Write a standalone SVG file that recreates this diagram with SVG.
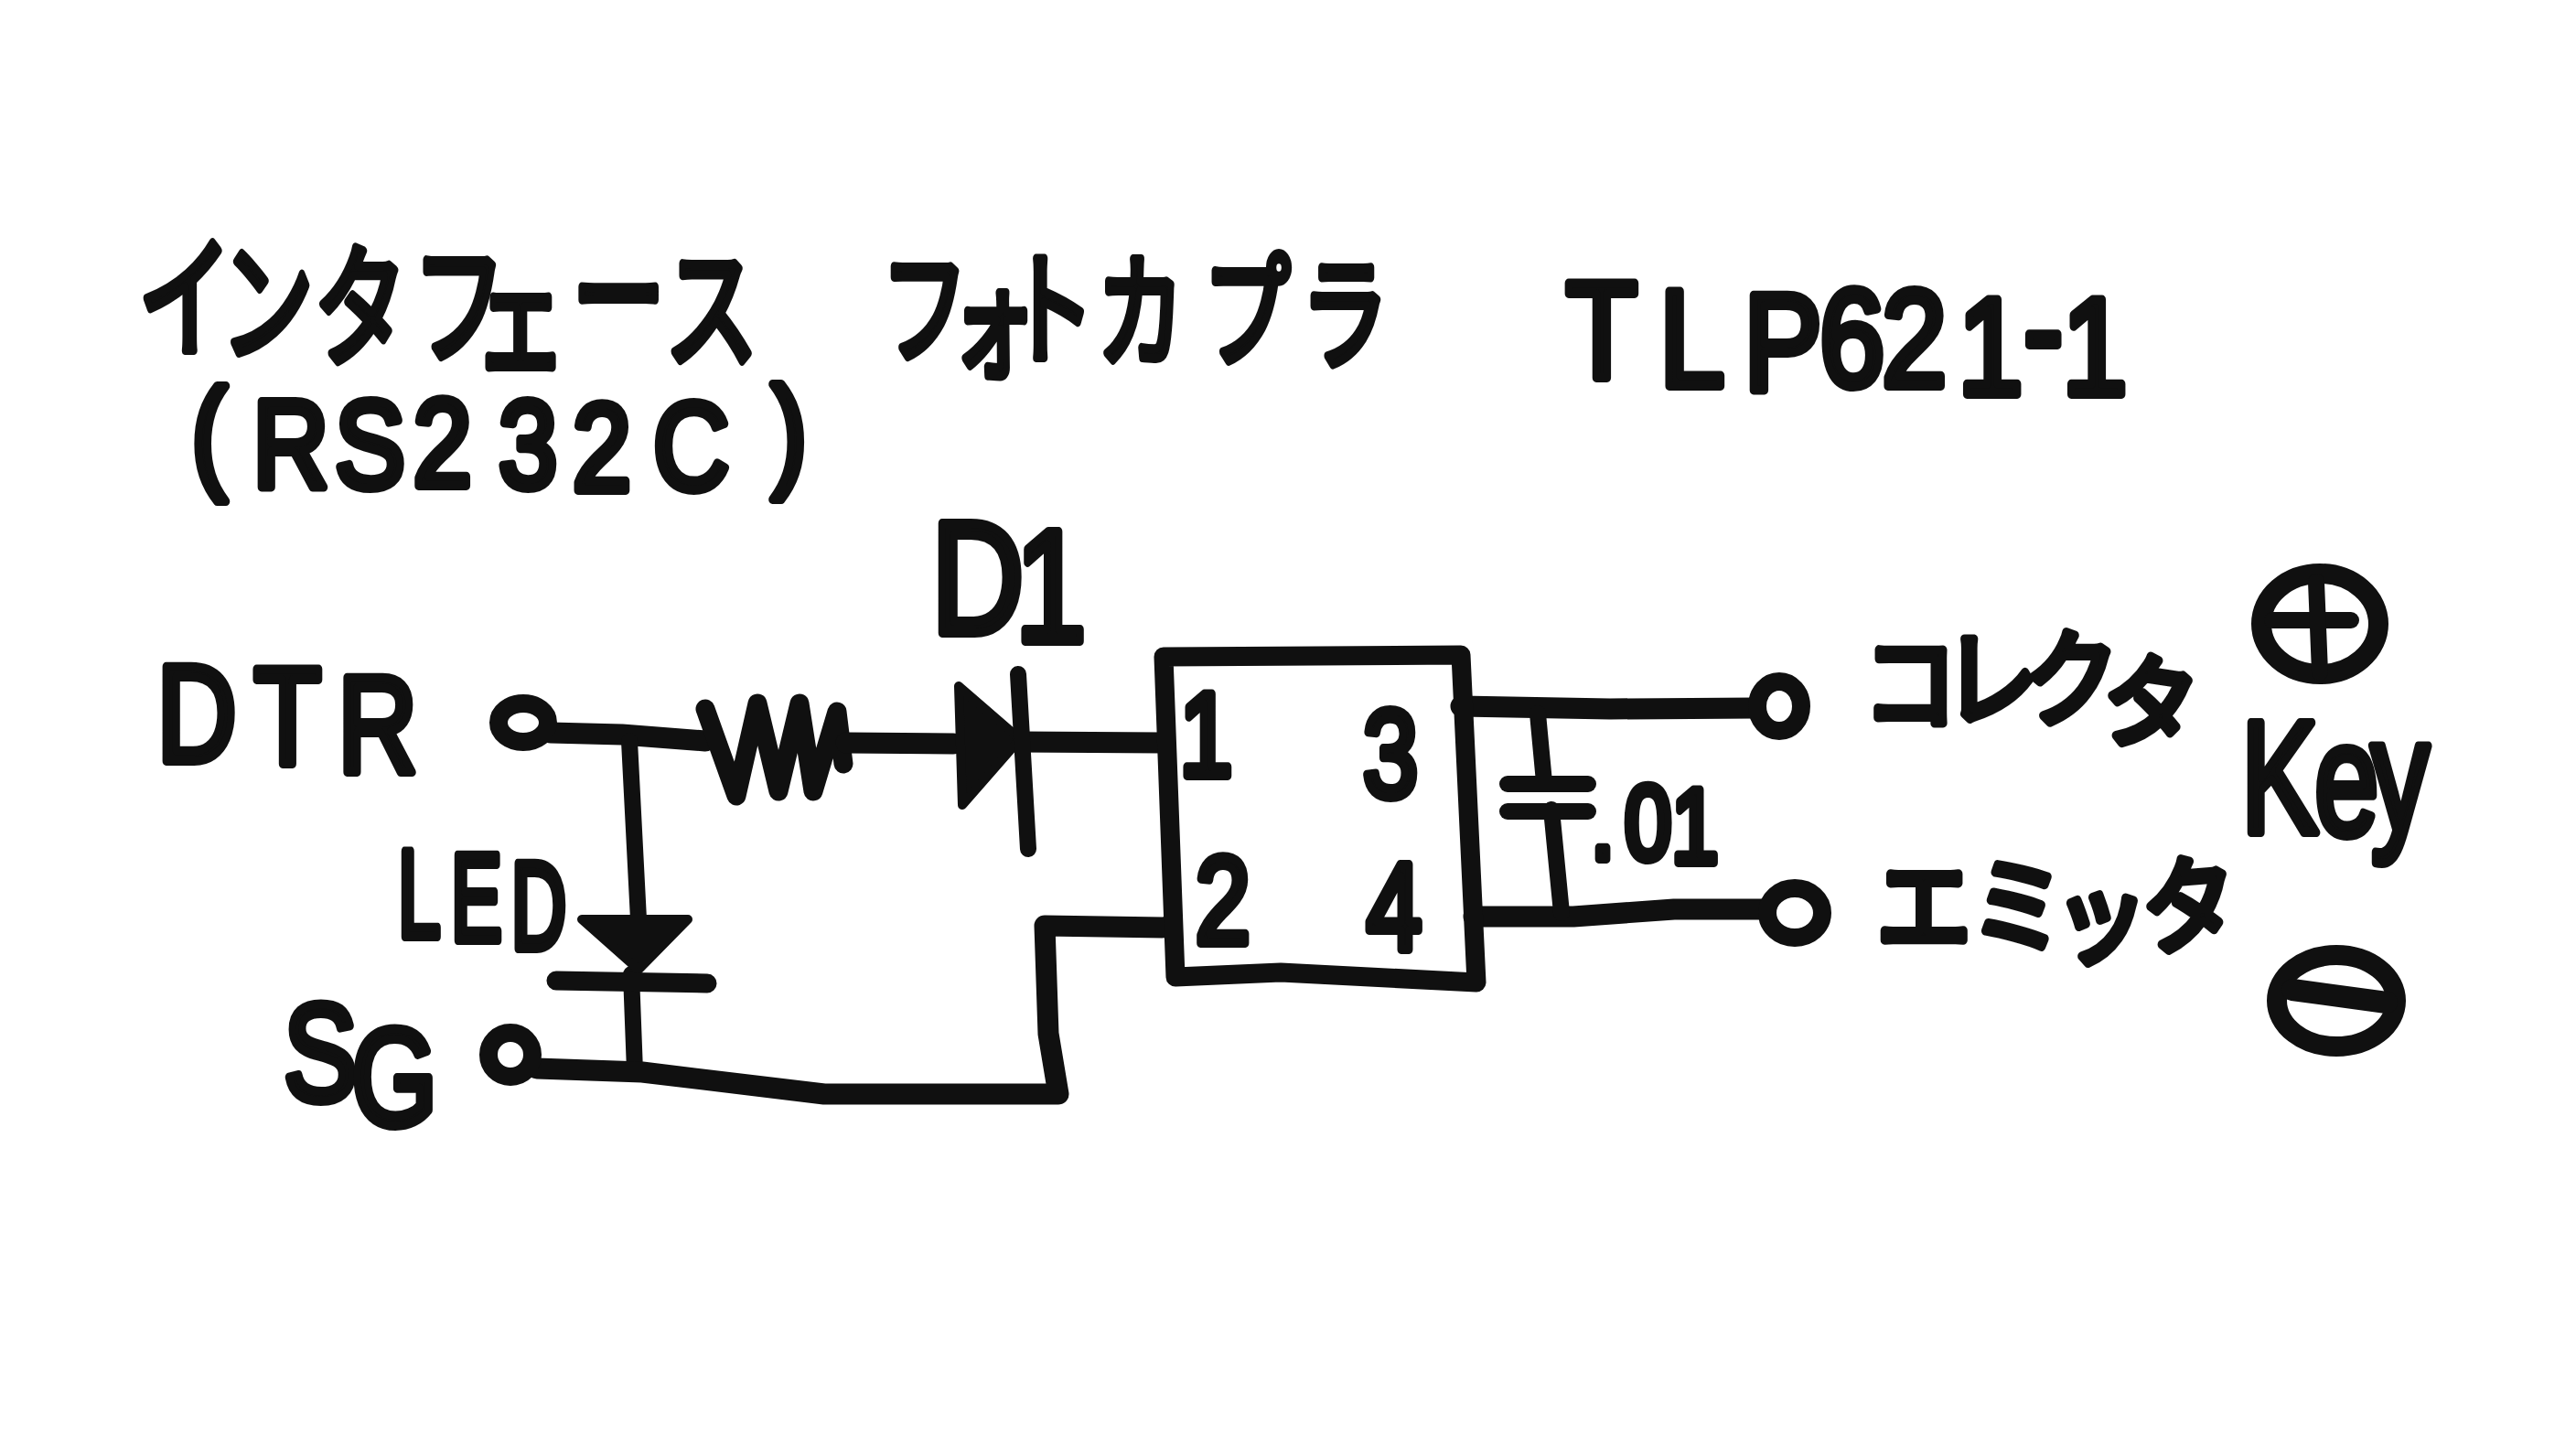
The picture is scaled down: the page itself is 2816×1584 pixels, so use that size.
<svg xmlns="http://www.w3.org/2000/svg" width="2816" height="1584" viewBox="0 0 2816 1584">
<style>
text{fill:#101010;stroke:#101010;stroke-linejoin:round;stroke-linecap:round;text-anchor:middle;font-weight:400;stroke-width:10}
.l{font-family:"Liberation Sans","Noto Sans",sans-serif}
.j{font-family:"Noto Sans CJK JP","Noto Sans",sans-serif}
.w{fill:none;stroke:#101010;stroke-linecap:round;stroke-linejoin:round}
.t{stroke-width:23}.m{stroke-width:18}.b{stroke-width:21}
.f{fill:#101010;stroke:#101010;stroke-width:10;stroke-linejoin:round}
</style>
<rect width="2816" height="1584" fill="#fff"/>
<g id="connectors">
<path class="w t" d="M602 801L680 803L771 810"/>
<path class="w b" d="M771 775L805 870L828 769L851 865L874 769L889 865L915 778L922 835"/>
<path class="w t" d="M925 812L1042 813"/>
<path class="w t" d="M1115 811L1272 812"/>
<path class="w m" d="M688 810L698 1005"/>
<path class="w m" d="M690 1065L694 1171"/>
<path class="w t" d="M1280 1014L1142 1012L1146 1130L1157 1196L901 1196L702 1172L587 1168"/>
<path class="w t" d="M1597 772L1760 775L1919 774"/>
<path class="w t" d="M1611 1002L1720 1002L1830 994L1927 994"/>
<path class="w m" d="M1681 780L1688 855"/>
<path class="w m" d="M1696 885L1707 998"/>
</g>
<g id="title-interface"><text class="j" font-size="145" transform="scale(.7,1)" x="289 417 563 717 813 966 1111" y="379 384 389 387 400 377 391">インタフェース</text>
<text class="l" font-size="135" transform="scale(.85,1)" x="269 374 476 569 679 774 889 1015" y="520 533 533 531 533 536 535 518">(RS232C)</text></g>
<g id="title-photocoupler"><text class="j" font-size="135" transform="scale(.7,1)" x="1444 1551 1641 1781 1947 2100" y="387 403 387 390 390 393">フォトカプラ</text></g>
<g id="title-part"><text class="l" font-size="150" transform="scale(.85,1)" x="2060 2176 2293 2382 2462 2560 2628 2694" y="413 422 426 422 422 431 411 431">TLP621-1</text></g>
<g id="terminal-dtr"><ellipse class="w" stroke-width="20" cx="572" cy="790" rx="27" ry="21"/><text class="l" font-size="150" transform="scale(.8,1)" x="269 393 516" y="832 835 844">DTR</text></g>
<g id="diode-d1"><path class="f" d="M1048 750L1052 880L1115 808Z"/><path class="w m" d="M1113 737L1124 928"/><text class="l" font-size="175" transform="scale(.8,1)" x="1336 1436" y="692 701">D1</text></g>
<g id="led"><path class="f" d="M636 1005L752 1005L698 1060Z"/><path class="w b" d="M608 1072L773 1075"/><text class="l" font-size="135" transform="scale(.62,1)" x="739 840 950" y="1024 1028 1037">LED</text></g>
<g id="terminal-sg"><ellipse class="w" stroke-width="20" cx="558" cy="1153" rx="24" ry="24"/><text class="l" font-size="150" transform="scale(.8,1)" x="438 539" y="1203 1230">SG</text></g>
<g id="optocoupler">
<path class="w b" d="M1272 718L1285 1068L1400 1063L1614 1074L1597 716Z"/>
<text class="l" font-size="130" transform="scale(.8,1)" x="1648" y="848">1</text>
<text class="l" font-size="135" transform="scale(.8,1)" x="1671" y="1031">2</text>
<text class="l" font-size="135" transform="scale(.8,1)" x="1900" y="871">3</text>
<text class="l" font-size="135" transform="scale(.8,1)" x="1905" y="1038">4</text>
</g>
<g id="capacitor"><path class="w m" d="M1648 857L1736 857"/><path class="w m" d="M1648 887L1736 887"/><text class="l" font-size="115" transform="scale(.8,1)" x="2190 2252 2316" y="939 939 943">.01</text></g>
<g id="terminal-collector"><ellipse class="w" stroke-width="20" cx="1945" cy="772" rx="24" ry="27"/><text class="j" font-size="115" transform="scale(.9,1)" x="2320 2418 2516 2606" y="789 784 784 803" rotate="0 0 0 8">コレクタ</text></g>
<g id="terminal-emitter"><ellipse class="w" stroke-width="20" cx="1962" cy="998" rx="30" ry="27"/><text class="j" font-size="115" transform="scale(.9,1)" x="2337 2451 2552 2662" y="1032 1032 1044 1036" rotate="0 0 0 -4">エミッタ</text></g>
<g id="key-label"><text class="l" font-size="175" transform="scale(.72,1)" x="3461 3563 3644" y="910 912 908">Key</text></g>
<g id="plus"><ellipse class="w" stroke-width="22" cx="2536" cy="682" rx="64" ry="55"/><path class="w m" d="M2484 678L2570 678"/><path class="w m" d="M2532 636L2536 735"/></g>
<g id="minus"><ellipse class="w" stroke-width="22" cx="2554" cy="1094" rx="65" ry="50"/><path class="w" stroke-width="24" d="M2506 1082L2609 1096"/></g>
</svg>
